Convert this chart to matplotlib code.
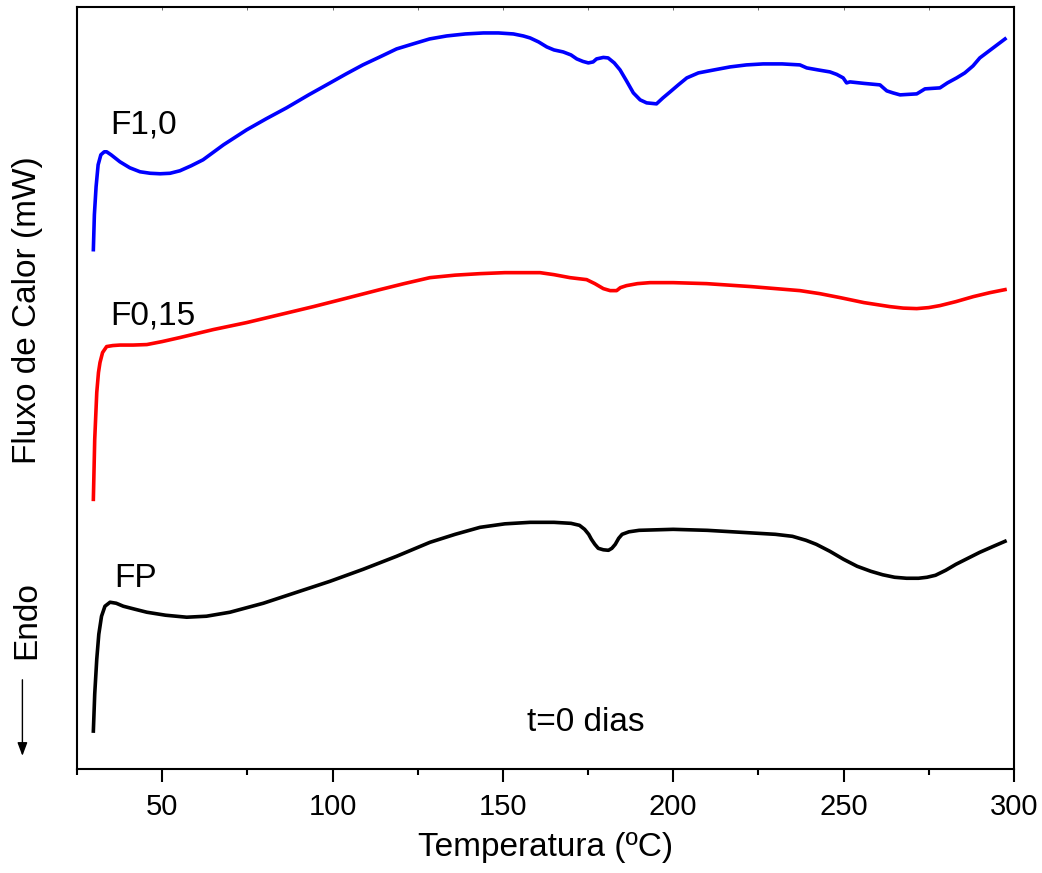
import numpy as np
import matplotlib
matplotlib.use("Agg")
import matplotlib.pyplot as plt
from matplotlib.ticker import MultipleLocator

plt.rcParams['font.family'] = ['Liberation Sans', 'DejaVu Sans']

# F1,0 curve (temperature in C, heat flow in arbitrary offset units)
t_f10 = [29.8, 30.1, 30.6, 31.2, 32.0, 33.0, 33.7, 35.0, 37.6, 40.5, 43.5, 46.5,
         49.4, 52.3, 55.2, 58.5, 62.0, 68.0, 74.8, 80.5, 86.5, 93.0, 99.3, 104.0,
         108.9, 113.9, 118.8, 123.6, 128.5, 133.5, 139.0, 144.3, 148.7, 153.1,
         156.0, 158.0, 160.5, 162.9, 165.0, 167.7, 170.0, 171.7, 173.5, 175.1,
         176.5, 177.5, 179.5, 180.9, 182.7, 184.4, 186.3, 188.3, 190.3, 192.2,
         195.1, 197.0, 199.1, 201.5, 204.0, 207.4, 212.0, 216.7, 221.5, 226.4,
         232.0, 237.2, 239.2, 242.5, 246.0, 248.0, 249.9, 250.9, 251.9, 256.0,
         260.7, 262.7, 264.5, 266.6, 269.0, 271.5, 273.9, 276.0, 278.3, 280.5,
         283.2, 285.6, 288.0, 290.0, 293.5, 297.4]
y_f10 = [5.20, 5.55, 5.83, 6.05, 6.15, 6.18, 6.18, 6.15, 6.08, 6.02, 5.98, 5.965,
         5.96, 5.965, 5.99, 6.04, 6.10, 6.25, 6.40, 6.51, 6.62, 6.75, 6.87, 6.96,
         7.05, 7.13, 7.21, 7.26, 7.31, 7.34, 7.36, 7.37, 7.37, 7.36,
         7.34, 7.32, 7.28, 7.23, 7.20, 7.18, 7.15, 7.11, 7.085, 7.07,
         7.08, 7.11, 7.125, 7.12, 7.07, 7.00, 6.89, 6.77, 6.70, 6.67,
         6.66, 6.72, 6.78, 6.85, 6.92, 6.97, 7.00, 7.03, 7.05, 7.06,
         7.06, 7.05, 7.02, 7.00, 6.98, 6.955, 6.92, 6.87, 6.88, 6.865,
         6.85, 6.79, 6.77, 6.75, 6.755, 6.76, 6.81, 6.815, 6.82, 6.87,
         6.92, 6.97, 7.04, 7.12, 7.21, 7.31]

# F0,15 curve
t_f015 = [29.8, 30.2, 30.8, 31.3, 31.75, 32.5, 33.7, 35.5, 37.6, 41.5, 45.5, 50.0,
          55.2, 65.0, 74.8, 84.6, 94.4, 104.2, 113.9, 121.0, 128.6, 136.0, 143.3,
          150.6, 158.0, 160.9, 165.0, 169.7, 174.6, 177.0, 179.5, 181.5, 183.4,
          184.5, 186.3, 189.5, 193.2, 200.0, 209.8, 223.0, 237.2, 243.0, 249.0,
          256.0, 263.6, 267.5, 271.5, 275.0, 278.3, 283.0, 288.1, 293.0, 297.4]
y_f015 = [2.70, 3.30, 3.77, 3.97, 4.07, 4.17, 4.23, 4.24, 4.245, 4.245, 4.25, 4.28,
          4.32, 4.40, 4.47, 4.55, 4.63, 4.715, 4.80, 4.86, 4.92, 4.945, 4.96,
          4.97, 4.97, 4.97, 4.95, 4.92, 4.90, 4.86, 4.81, 4.79, 4.79,
          4.82, 4.84, 4.86, 4.87, 4.87, 4.86, 4.83, 4.79, 4.76, 4.72,
          4.67, 4.63, 4.615, 4.61, 4.62, 4.64, 4.68, 4.73, 4.77, 4.80]

# FP curve
t_fp = [29.8, 30.2, 30.8, 31.4, 32.2, 33.2, 34.7, 36.5, 38.6, 42.0, 45.5, 51.0,
        57.2, 63.0, 69.9, 79.7, 89.5, 99.3, 109.0, 118.8, 128.6, 136.0, 143.3,
        150.6, 158.0, 165.0, 170.0, 172.5, 174.0, 175.2, 176.0, 177.0, 178.0,
        179.5, 181.0, 182.0, 183.0, 184.0, 185.0, 187.0, 190.0, 200.0, 210.0,
        220.0, 230.0, 235.0, 239.0, 242.0, 246.0, 250.0, 254.0, 258.0, 261.5,
        265.0, 268.5, 272.0, 274.5, 277.0, 280.0, 283.0, 286.5, 290.0, 294.0,
        297.4]
y_fp = [0.38, 0.75, 1.10, 1.35, 1.53, 1.63, 1.67, 1.66, 1.63, 1.60, 1.57, 1.54,
        1.52, 1.53, 1.57, 1.66, 1.77, 1.88, 2.00, 2.13, 2.27, 2.35, 2.42,
        2.455, 2.47, 2.47, 2.46, 2.44, 2.40, 2.35, 2.30, 2.25, 2.21,
        2.195, 2.19, 2.21, 2.25, 2.31, 2.35, 2.375, 2.39, 2.40, 2.39,
        2.37, 2.35, 2.33, 2.29, 2.25, 2.18, 2.10, 2.03, 1.98, 1.945,
        1.92, 1.91, 1.91, 1.92, 1.94, 1.99, 2.05, 2.11, 2.17, 2.23,
        2.28]

fig = plt.figure(figsize=(10.42, 8.73), dpi=100)
ax = fig.add_axes([0.0739, 0.1191, 0.8991, 0.8729])

ax.plot(t_f10, y_f10, color='#0000FF', lw=2.6, solid_joinstyle='round')
ax.plot(t_f015, y_f015, color='#FF0000', lw=2.6, solid_joinstyle='round')
ax.plot(t_fp, y_fp, color='black', lw=2.6, solid_joinstyle='round')

ax.set_xlim(25, 300)
ax.set_ylim(0, 7.63)
ax.set_yticks([])
ax.xaxis.set_major_locator(MultipleLocator(50))
ax.xaxis.set_minor_locator(MultipleLocator(25))
ax.tick_params(axis='x', which='major', direction='out', length=9, width=1.5,
               labelsize=21, pad=8)
ax.tick_params(axis='x', which='minor', direction='out', length=4.5, width=1.5)

# thin inward ticks on the top edge
top = ax.secondary_xaxis('top')
top.xaxis.set_major_locator(MultipleLocator(50))
top.xaxis.set_minor_locator(MultipleLocator(25))
top.tick_params(which='both', direction='in', length=2.5, width=0.6,
                labeltop=False, colors='#555555')
top.spines['top'].set_visible(False)

for s in ax.spines.values():
    s.set_linewidth(1.5)

ax.set_xlabel('Temperatura (ºC)', fontsize=24, labelpad=8)

ax.text(34.7, 6.45, 'F1,0', fontsize=24, va='center')
ax.text(34.7, 4.54, 'F0,15', fontsize=24, va='center')
ax.text(36.0, 1.91, 'FP', fontsize=24, va='center')
ax.text(157, 0.47, 't=0 dias', fontsize=24, va='center')

fig.text(0.026, 0.645, 'Fluxo de Calor (mW)', fontsize=24, rotation=90,
         ha='center', va='center')
fig.text(0.026, 0.29, 'Endo', fontsize=24, rotation=90, ha='center', va='center')
fig.patches.append(matplotlib.patches.FancyArrowPatch(
    (0.0215, 0.2245), (0.0215, 0.131), transform=fig.transFigure,
    arrowstyle='-|>,head_length=8,head_width=3', lw=1, color='black'))

fig.savefig('out.png', dpi=100)
